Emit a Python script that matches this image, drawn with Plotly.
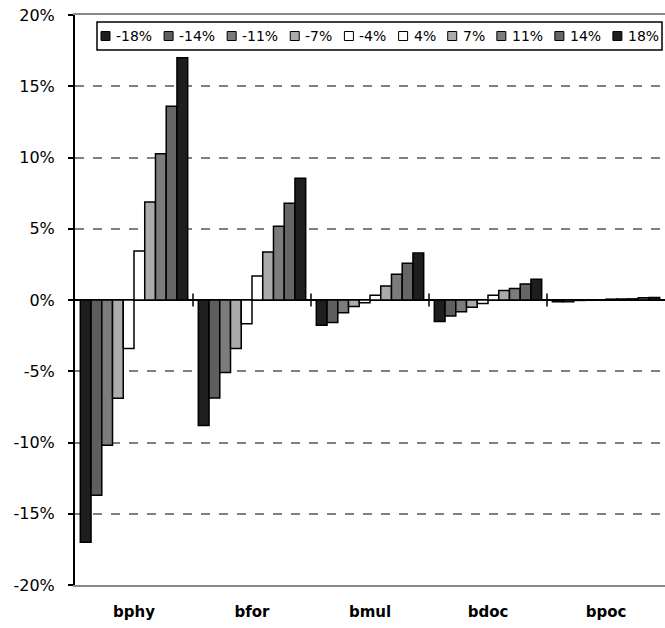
import plotly.graph_objects as go

categories = ["bphy", "bfor", "bmul", "bdoc", "bpoc"]
series_names = ["-18%", "-14%", "-11%", "-7%", "-4%", "4%", "7%", "11%", "14%", "18%"]

s_m18 = [-0.170, -0.088, -0.0178, -0.0150, -0.0012]
s_m14 = [-0.137, -0.0687, -0.0158, -0.0112, -0.0012]
s_m11 = [-0.102, -0.0509, -0.0089, -0.0082, -0.0003]
s_m7 = [-0.069, -0.034, -0.0045, -0.0051, -0.0002]
s_m4 = [-0.034, -0.0166, -0.0019, -0.0025, -0.0001]
s_p4 = [0.0343, 0.0169, 0.0033, 0.0033, 0.0006]
s_p7 = [0.0687, 0.0336, 0.0099, 0.0066, 0.0007]
s_p11 = [0.1026, 0.0517, 0.0181, 0.0080, 0.0008]
s_p14 = [0.136, 0.0679, 0.0258, 0.0113, 0.0015]
s_p18 = [0.170, 0.0855, 0.0329, 0.0146, 0.0018]

y_tick_vals = [-0.20, -0.15, -0.10, -0.05, 0.0, 0.05, 0.10, 0.15, 0.20]
y_tick_text = ["-20%", "-15%", "-10%", "-5%", "0%", "5%", "10%", "15%", "20%"]

series_values = [s_m18, s_m14, s_m11, s_m7, s_m4, s_p4, s_p7, s_p11, s_p14, s_p18]
colors = ["#1e1e1e", "#5e5e5e", "#7c7c7c", "#ababab", "#ffffff",
          "#ffffff", "#ababab", "#7c7c7c", "#666666", "#1e1e1e"]

FONT = "DejaVu Sans, Verdana, sans-serif"

fig = go.Figure()
for name, vals, col in zip(series_names, series_values, colors):
    fig.add_trace(go.Bar(
        x=categories, y=vals, name=name,
        marker=dict(color=col, line=dict(color="black", width=1.5)),
    ))

# cross ticks on the zero line between categories
for k in range(len(categories) - 1):
    fig.add_shape(type="line", xref="x", yref="y",
                  x0=k + 0.5, x1=k + 0.5, y0=-0.0045, y1=0.0045,
                  line=dict(color="black", width=1.5))

# ---- custom single-row legend (Excel style) ----
PL, PR, PT, PB = 75.0, 665.0, 15.0, 585.0   # plot area in page pixels
def px(xp):
    return (xp - PL) / (PR - PL)
def py(yp):
    return 1 - (yp - PT) / (PB - PT)

CHAR_W = {"-": 0.361, "%": 0.950}
def text_w(s, size):
    return sum(CHAR_W.get(c, 0.636) for c in s) * size

LEG_FONT = 14
box_l, box_r, box_t, box_b = 97, 662, 22, 50
mk, mk_gap = 9, 4
content_l, content_r = box_l + 4, box_r - 5
widths = [text_w(n, LEG_FONT) for n in series_names]
total = sum(widths) + len(series_names) * (mk + mk_gap)
gap = (content_r - content_l - total) / (len(series_names) - 1)
cy = (box_t + box_b) / 2

fig.add_shape(type="rect", xref="paper", yref="paper",
              x0=px(box_l), x1=px(box_r), y0=py(box_b), y1=py(box_t),
              line=dict(color="black", width=1.5), fillcolor="white", layer="above")
cur = content_l
for name, col, w in zip(series_names, colors, widths):
    fig.add_shape(type="rect", xref="paper", yref="paper",
                  x0=px(cur), x1=px(cur + mk), y0=py(cy + mk / 2), y1=py(cy - mk / 2),
                  line=dict(color="black", width=1), fillcolor=col, layer="above")
    fig.add_annotation(xref="paper", yref="paper", x=px(cur + mk + mk_gap), y=py(cy),
                       xanchor="left", yanchor="middle", text=name, showarrow=False,
                       font=dict(size=LEG_FONT, family=FONT, color="black"))
    cur += mk + mk_gap + w + gap

fig.update_layout(
    width=665, height=628,
    margin=dict(l=75, r=0, t=15, b=43),
    paper_bgcolor="white", plot_bgcolor="white",
    barmode="group", bargap=0.09, bargroupgap=0,
    font=dict(family=FONT, color="black", size=15),
    showlegend=False,
)
fig.update_xaxes(
    showgrid=False, showline=True, linecolor="#8a8a8a", linewidth=1.5, mirror=True,
    ticks="", tickfont=dict(size=15, family=FONT, weight="bold"),
    ticklabelstandoff=12,
)
fig.update_yaxes(
    range=[-0.2, 0.2], tickvals=y_tick_vals, ticktext=y_tick_text,
    showline=True, linecolor="black", linewidth=2,
    ticks="outside", ticklen=5, tickcolor="black", tickwidth=1.5,
    showgrid=True, gridcolor="#808080", griddash="dash", gridwidth=1.5,
    zeroline=True, zerolinecolor="black", zerolinewidth=1.5,
    ticklabelstandoff=10, tickfont=dict(size=16, family=FONT),
)

fig.write_html(
    "out.html",
    config={"displayModeBar": False},
    post_script="document.body.style.margin='0';document.body.style.overflow='hidden';",
)
